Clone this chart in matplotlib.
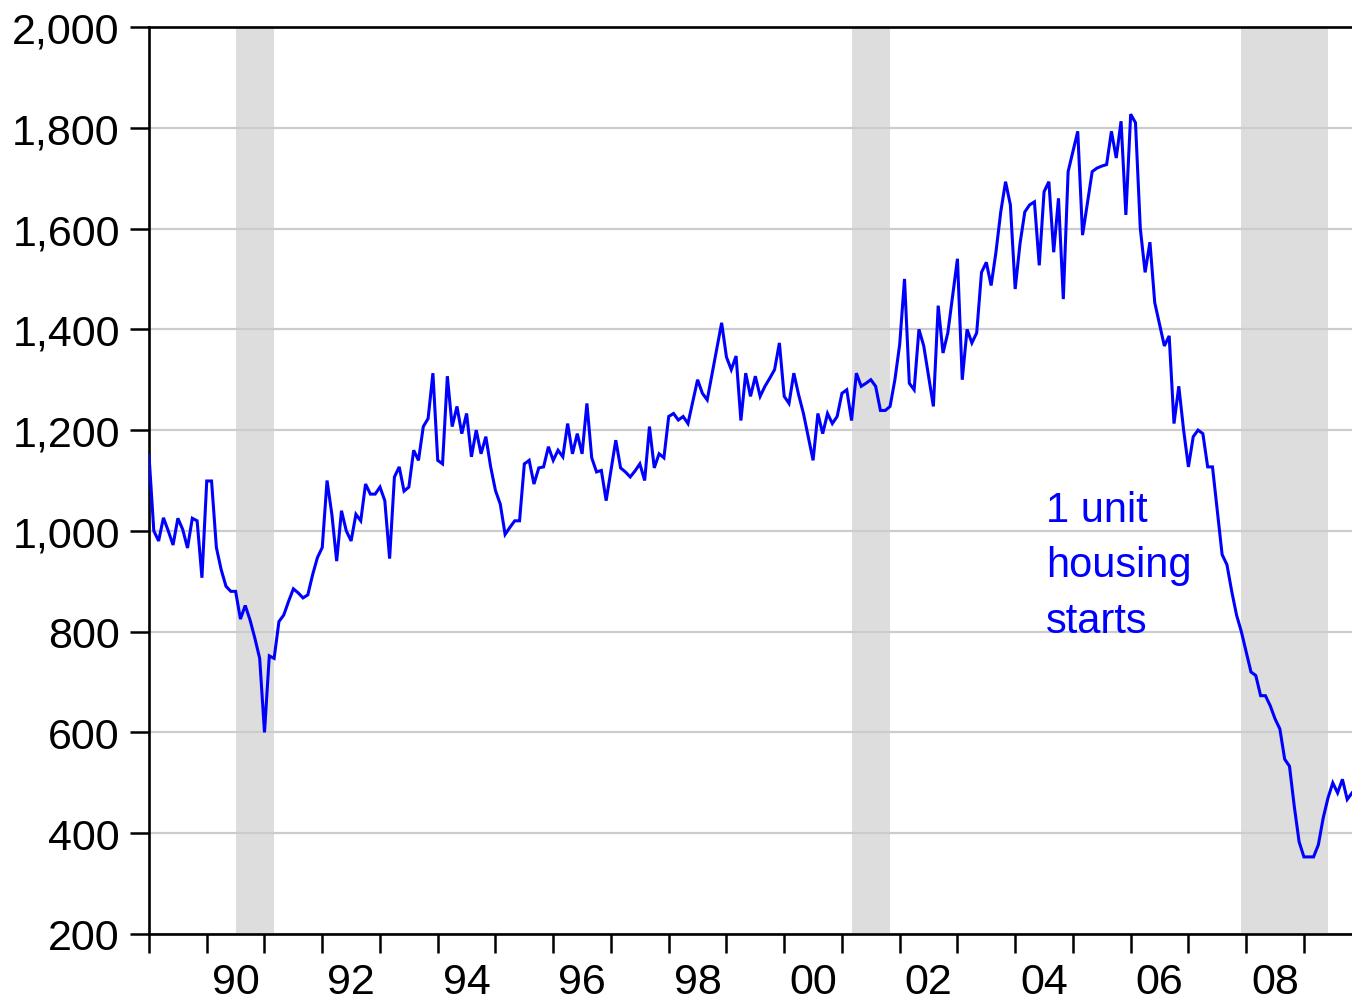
import matplotlib
matplotlib.use("Agg")
import matplotlib.pyplot as plt
import numpy as np

plt.rcParams['font.family'] = ['Liberation Sans', 'DejaVu Sans']

start_year = 1989
# Monthly single-unit housing starts (thousands, SAAR), Jan 1989 onward
starts = [
    1150, 1000, 980, 1026, 1000, 972, 1025, 1003, 966, 1025, 1020, 907,
    1099, 1099, 967, 923, 890, 880, 880, 825, 852, 823, 787, 747,
    600, 752, 747, 820, 833, 860, 885, 877, 867, 873, 913, 947,
    967, 1100, 1033, 940, 1040, 1000, 980, 1033, 1020, 1093, 1073, 1073,
    1087, 1060, 945, 1107, 1127, 1079, 1087, 1160, 1140, 1207, 1223, 1313,
    1140, 1133, 1307, 1207, 1247, 1193, 1233, 1147, 1200, 1153, 1187, 1127,
    1080, 1053, 993, 1007, 1020, 1020, 1133, 1140, 1093, 1125, 1127, 1167,
    1140, 1160, 1147, 1213, 1153, 1193, 1153, 1253, 1145, 1117, 1120, 1060,
    1120, 1180, 1125, 1117, 1107, 1119, 1133, 1100, 1207, 1125, 1153, 1145,
    1227, 1233, 1220, 1227, 1213, 1257, 1300, 1273, 1260, 1311, 1362, 1413,
    1345, 1320, 1347, 1219, 1313, 1267, 1307, 1267, 1287, 1303, 1320, 1373,
    1267, 1253, 1313, 1270, 1233, 1187, 1140, 1233, 1193, 1233, 1213, 1227,
    1273, 1280, 1219, 1313, 1287, 1293, 1300, 1287, 1239, 1239, 1247, 1300,
    1370, 1500, 1293, 1280, 1400, 1367, 1307, 1247, 1447, 1353, 1393, 1467,
    1540, 1300, 1400, 1373, 1393, 1513, 1533, 1487, 1553, 1633, 1693, 1647,
    1480, 1570, 1633, 1647, 1653, 1527, 1673, 1693, 1553, 1660, 1460, 1713,
    1753, 1793, 1587, 1650, 1713, 1720, 1724, 1727, 1793, 1740, 1813, 1627,
    1827, 1810, 1600, 1513, 1573, 1453, 1410, 1367, 1387, 1213, 1287, 1200,
    1127, 1187, 1200, 1193, 1127, 1127, 1040, 953, 933, 880, 833, 800,
    760, 720, 713, 673, 673, 653, 627, 607, 547, 533, 453, 383,
    353, 353, 353, 377, 430, 470, 500, 480, 507, 467, 480,
]
# Recessions (start, end) in decimal years
recessions = [(1990 + 6/12, 1991 + 2/12), (2001 + 2/12, 2001 + 10/12), (2007 + 11/12, 2009 + 5/12)]
year_labels = ["90", "92", "94", "96", "98", "00", "02", "04", "06", "08"]
label_years = [1990, 1992, 1994, 1996, 1998, 2000, 2002, 2004, 2006, 2008]
yticks = [200, 400, 600, 800, 1000, 1200, 1400, 1600, 1800, 2000]
ytick_labels = ["200", "400", "600", "800", "1,000", "1,200", "1,400", "1,600", "1,800", "2,000"]

x = start_year + np.arange(len(starts)) / 12.0

fig = plt.figure(figsize=(13.52, 10.03), dpi=100)
ax = fig.add_axes([149/1352, 1 - 935/1003, (1353 - 149)/1352, (935 - 28)/1003])

for s, e in recessions:
    ax.axvspan(s, e, color='#DDDDDD', lw=0, zorder=0)

for yv in yticks:
    ax.axhline(yv, color='#CCCCCC', lw=1.6, zorder=1)

ax.plot(x, starts, color='#0000FF', lw=2.2, zorder=3, solid_joinstyle='miter')

ax.set_xlim(1989, 1989 + 250.2 / 12)
ax.set_ylim(200, 2000)

ax.set_yticks(yticks)
ax.set_yticklabels(ytick_labels)
ax.set_xticks(np.arange(1989, 2010))
ax.set_xticklabels([])
ax.set_xticks([yv + 0.5 for yv in label_years], minor=True)
ax.set_xticklabels(year_labels, minor=True)

ax.tick_params(axis='y', which='major', direction='out', length=14, width=1.8,
               labelsize=31, pad=7)
ax.tick_params(axis='x', which='major', direction='out', length=14, width=1.8)
ax.tick_params(axis='x', which='minor', length=0, labelsize=31, pad=20)

for side in ['left', 'bottom', 'top']:
    ax.spines[side].set_linewidth(1.9)
ax.spines['right'].set_visible(False)

ax.text(2004 + 6.4/12, 1082, "1 unit\nhousing\nstarts", color='#0000FF', fontsize=30,
        va='top', ha='left', linespacing=1.5, zorder=4)

fig.savefig("out.png", dpi=100)
